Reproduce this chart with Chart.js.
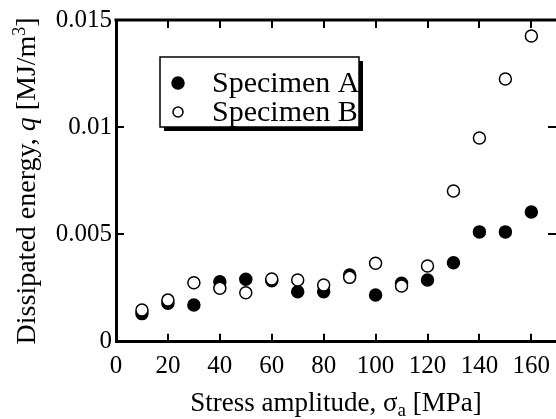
<!DOCTYPE html>
<html>
<head>
<meta charset="utf-8">
<script src="https://cdn.jsdelivr.net/npm/chart.js@4/dist/chart.umd.min.js"></script>
<style>
  html, body { margin: 0; padding: 0; background: #fff; }
  #wrap { width: 556px; height: 419px; }
</style>
</head>
<body>
<div id="wrap"><canvas id="energyChart" width="556" height="419"></canvas></div>
<script>
const stressAmplitude = [10, 20, 30, 40, 50, 60, 70, 80, 90, 100, 110, 120, 130, 140, 150, 160];
const specimenA = [0.00131, 0.00179, 0.00171, 0.0028, 0.00291, 0.00284, 0.00233, 0.00233, 0.00311, 0.00218, 0.00272, 0.00288, 0.00368, 0.00512, 0.00512, 0.00605];
const specimenB = [0.00148, 0.00194, 0.00275, 0.00249, 0.00228, 0.00292, 0.00288, 0.00264, 0.003, 0.00366, 0.0026, 0.00353, 0.00703, 0.0095, 0.01225, 0.01425];
const xTickValues = [0, 20, 40, 60, 80, 100, 120, 140, 160];
const yTickValues = [0, 0.005, 0.01, 0.015];
const yTickLabels = ['0', '0.005', '0.01', '0.015'];
const seriesLabels = ['Specimen A', 'Specimen B'];

const FONT = '"Liberation Serif", "Times New Roman", serif';

function toPoints(values) {
    return stressAmplitude.map((x, i) => ({ x: x, y: values[i] }));
}

// ticks pointing inwards + top frame line
const frameTicks = {
    id: 'frameTicks',
    afterDraw(chart) {
        const { ctx, chartArea: a, scales: { x, y } } = chart;
        ctx.save();
        ctx.strokeStyle = '#000';
        ctx.lineWidth = 3;
        ctx.beginPath();
        ctx.moveTo(a.left - 1.5, a.top);
        ctx.lineTo(a.right + 2, a.top);
        ctx.stroke();
        ctx.lineWidth = 2;
        const len = 8;
        xTickValues.forEach(v => {
            const px = Math.round(x.getPixelForValue(v));
            if (v === 0) return;
            ctx.beginPath();
            ctx.moveTo(px, a.bottom);
            ctx.lineTo(px, a.bottom - len);
            ctx.moveTo(px, a.top);
            ctx.lineTo(px, a.top + len);
            ctx.stroke();
        });
        yTickValues.forEach(v => {
            const py = Math.round(y.getPixelForValue(v));
            if (v === 0 || v === 0.015) return;
            ctx.beginPath();
            ctx.moveTo(a.left, py);
            ctx.lineTo(a.left + len, py);
            ctx.moveTo(a.right, py);
            ctx.lineTo(a.right - len, py);
            ctx.stroke();
        });
        ctx.restore();
    }
};

// draws text runs with mixed styles, centred on (0,0)
function drawRuns(ctx, runs, size) {
    const fontFor = r => (r.italic ? 'italic ' : '') + Math.round(size * (r.scale || 1)) + 'px ' + FONT;
    let total = 0;
    runs.forEach(r => { ctx.font = fontFor(r); r.w = ctx.measureText(r.text).width; total += r.w; });
    let cx = -total / 2;
    runs.forEach(r => {
        ctx.font = fontFor(r);
        ctx.fillText(r.text, cx, (r.shift || 0) * size);
        cx += r.w;
    });
}

const axisTitles = {
    id: 'axisTitles',
    afterDraw(chart) {
        const { ctx, chartArea: a } = chart;
        ctx.save();
        ctx.fillStyle = '#000';
        ctx.textBaseline = 'alphabetic';
        ctx.textAlign = 'left';
        ctx.translate((a.left + a.right) / 2, 411);
        drawRuns(ctx, [
            { text: 'Stress amplitude, ' },
            { text: 'σ' },
            { text: 'a', scale: 0.7, shift: 0.2 },
            { text: ' [MPa]' }
        ], 27);
        ctx.restore();

        ctx.save();
        ctx.fillStyle = '#000';
        ctx.textBaseline = 'alphabetic';
        ctx.textAlign = 'left';
        ctx.translate(35, (a.top + a.bottom) / 2);
        ctx.rotate(-Math.PI / 2);
        drawRuns(ctx, [
            { text: 'Dissipated energy, ' },
            { text: 'q', italic: true },
            { text: ' [MJ/m' },
            { text: '3', scale: 0.65, shift: -0.35 },
            { text: ']' }
        ], 28);
        ctx.restore();
    }
};

const boxLegend = {
    id: 'boxLegend',
    afterDraw(chart) {
        const ctx = chart.ctx;
        const bx = 160, by = 57, bw = 199, bh = 70;
        ctx.save();
        ctx.fillStyle = '#000';
        ctx.fillRect(bx + 4, by + 4, bw, bh);
        ctx.fillStyle = '#fff';
        ctx.fillRect(bx, by, bw, bh);
        ctx.strokeStyle = '#000';
        ctx.lineWidth = 1.5;
        ctx.strokeRect(bx, by, bw, bh);
        const rows = [83, 112];
        chart.data.datasets.forEach((ds, i) => {
            ctx.beginPath();
            ctx.arc(178, rows[i], i === 0 ? 6 : 5, 0, Math.PI * 2);
            ctx.fillStyle = ds.backgroundColor;
            ctx.fill();
            ctx.lineWidth = 1.5;
            ctx.strokeStyle = '#000';
            ctx.stroke();
            ctx.fillStyle = '#000';
            ctx.font = '30px ' + FONT;
            ctx.textBaseline = 'middle';
            ctx.fillText(ds.label, 212, rows[i] + 1);
        });
        ctx.restore();
    }
};

new Chart(document.getElementById('energyChart'), {
    type: 'scatter',
    data: {
        datasets: [
            {
                label: seriesLabels[0],
                data: toPoints(specimenA),
                backgroundColor: '#000',
                borderColor: '#000',
                borderWidth: 1.5,
                pointRadius: 6,
                order: 1
            },
            {
                label: seriesLabels[1],
                data: toPoints(specimenB),
                backgroundColor: '#fff',
                borderColor: '#000',
                borderWidth: 1.5,
                pointRadius: 6,
                order: 0
            }
        ]
    },
    options: {
        responsive: false,
        animation: false,
        layout: { autoPadding: false, padding: { top: 20, right: 0, bottom: 0, left: 0 } },
        plugins: {
            legend: { display: false },
            tooltip: { enabled: false }
        },
        scales: {
            x: {
                type: 'linear',
                min: 0,
                max: 169.5,
                afterBuildTicks: scale => { scale.ticks = xTickValues.map(v => ({ value: v })); },
                afterFit: scale => {
                    scale.height = 77.3;
                    scale.paddingLeft = 0;
                    scale.paddingRight = 0;
                },
                grid: { display: false, drawTicks: false },
                border: { display: true, color: '#000', width: 3 },
                ticks: { color: '#000', font: { family: FONT, size: 25 }, padding: 10, maxRotation: 0 }
            },
            y: {
                type: 'linear',
                min: 0,
                max: 0.015,
                afterBuildTicks: scale => { scale.ticks = yTickValues.map(v => ({ value: v })); },
                afterFit: scale => {
                    scale.width = 116;
                    scale.paddingTop = 0;
                    scale.paddingBottom = 0;
                },
                grid: { display: false, drawTicks: false },
                border: { display: true, color: '#000', width: 3 },
                ticks: {
                    color: '#000',
                    font: { family: FONT, size: 25 },
                    padding: 4,
                    callback: (value) => yTickLabels[yTickValues.indexOf(value)]
                }
            }
        }
    },
    plugins: [frameTicks, axisTitles, boxLegend]
});
</script>
</body>
</html>
